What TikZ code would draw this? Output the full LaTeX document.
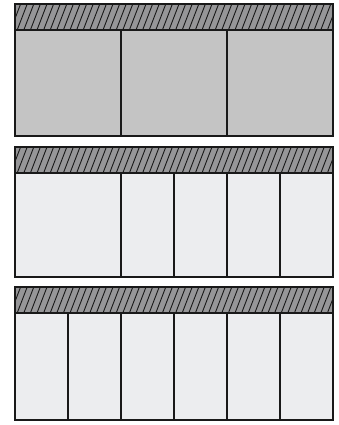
\documentclass[tikz,border=0pt]{standalone}
\usetikzlibrary{calc}
\definecolor{cellgray}{RGB}{196,196,196}
\definecolor{celllight}{RGB}{236,237,239}
\definecolor{bandgray}{RGB}{150,150,152}
\definecolor{edgeblack}{RGB}{25,25,25}

\begin{document}
\begin{tikzpicture}[x=1pt,y=-1pt,
  frame/.style={draw=edgeblack,line width=1.5pt},
  divider/.style={draw=edgeblack,line width=1.3pt},
  hatchline/.style={draw=edgeblack,line width=0.9pt}]
  \useasboundingbox (0,0) rectangle (338,425);
  % panels: top, bottom, fill, cell dividers
  \foreach \ya/\yb/\col/\divs in {4/136/cellgray/{121,227},
                                  147/277/celllight/{121,174,227,280},
                                  287/420/celllight/{68,121,174,227,280}} {
    \fill[\col] (15,\ya) rectangle (333,\yb);
    \fill[bandgray] (15,\ya) rectangle (333,\ya+26);
    \begin{scope}
      \clip (15,\ya) rectangle (333,\ya+26);
      \foreach \x in {4,10.6,...,340}
        \draw[hatchline] (\x,\ya+26) -- (\x+10,\ya);
    \end{scope}
    \foreach \d in \divs
      \draw[divider] (\d,\ya+26) -- (\d,\yb);
    \draw[divider] (15,\ya+26) -- (333,\ya+26);
    \draw[frame] (15,\ya) rectangle (333,\yb);
  }
\end{tikzpicture}
\end{document}
